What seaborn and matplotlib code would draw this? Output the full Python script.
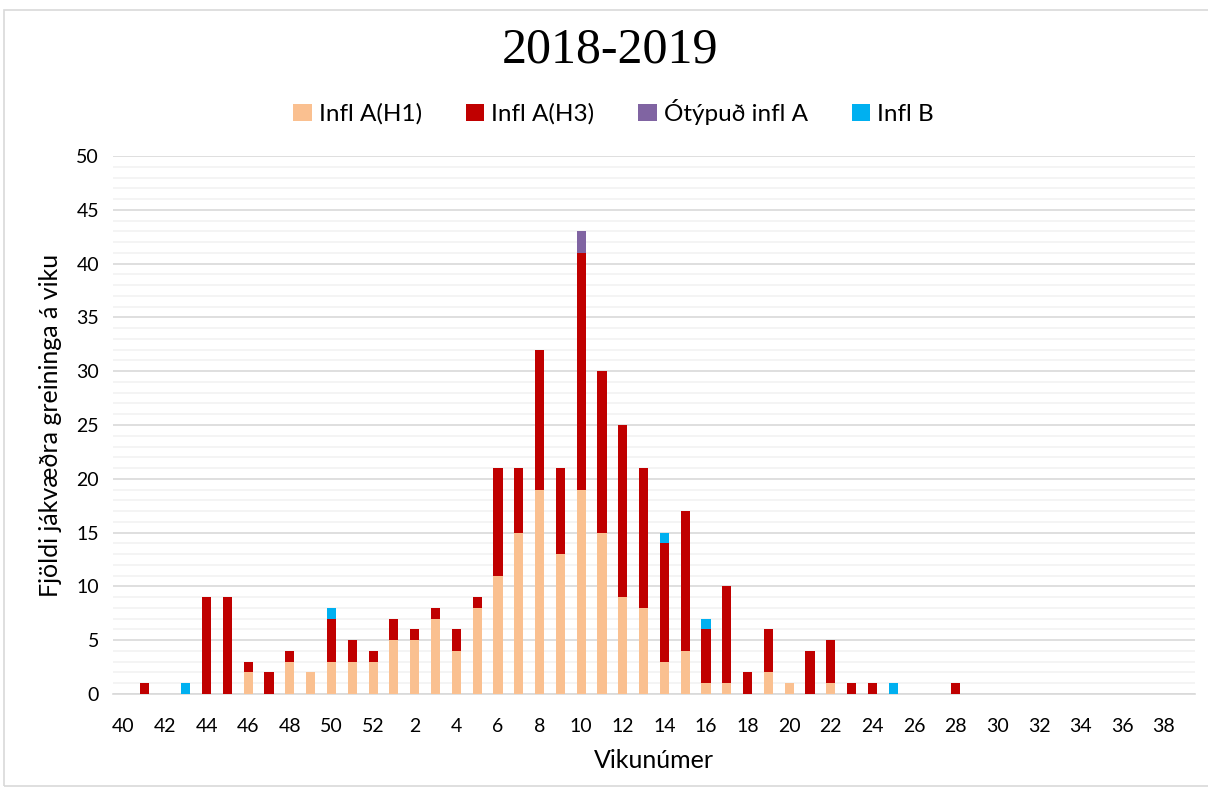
import numpy as np
import pandas as pd
import matplotlib.pyplot as plt
import seaborn as sns
from matplotlib.patches import Rectangle, Patch

# Vikur: 40-52 og svo 1-39
weeks = list(range(40, 53)) + list(range(1, 40))

h1 = [0, 0, 0, 0, 0, 0, 2, 0, 3, 2, 3, 3, 3,
      5, 5, 7, 4, 8, 11, 15, 19, 13, 19, 15, 9, 8, 3, 4, 1, 1, 0, 2, 1, 0, 1, 0, 0, 0,
      0, 0, 0, 0, 0, 0, 0, 0, 0, 0, 0, 0, 0, 0]
h3 = [0, 1, 0, 0, 9, 9, 1, 2, 1, 0, 4, 2, 1,
      2, 1, 1, 2, 1, 10, 6, 13, 8, 22, 15, 16, 13, 11, 13, 5, 9, 2, 4, 0, 4, 4, 1, 1, 0,
      0, 0, 1, 0, 0, 0, 0, 0, 0, 0, 0, 0, 0, 0]
untyped = [0] * 52
untyped[weeks.index(10)] = 2
infl_b = [0] * 52
for w in (43, 50, 14, 16, 25):
    infl_b[weeks.index(w)] = 1

series_names = ["Infl A(H1)", "Infl A(H3)", "Ótýpuð infl A", "Infl B"]
colors = ["#FAC090", "#C00000", "#8064A2", "#00B0F0"]

sns.set_theme(style="white")
plt.rcParams['font.family'] = ['Lato', 'DejaVu Sans']
plt.rcParams['text.color'] = 'black'
plt.rcParams['axes.labelcolor'] = 'black'

df = pd.DataFrame({"week": [str(w) for w in weeks],
                   series_names[0]: h1, series_names[1]: h3,
                   series_names[2]: untyped, series_names[3]: infl_b})

fig = plt.figure(figsize=(12.08, 7.89), dpi=100)
ax = fig.add_axes([113 / 1208, 1 - 694 / 789, (1195 - 113) / 1208, (694 - 156) / 789])

bottom = np.zeros(len(weeks))
for name, col in zip(series_names, colors):
    vals = df[name].to_numpy()
    sns.barplot(data=df, x="week", y=name, color=col, width=0.44, bottom=bottom,
                linewidth=0, ax=ax, zorder=3, saturation=1)
    bottom = bottom + vals

ax.set_ylim(0, 50)
ax.set_xlim(-0.5, len(weeks) - 0.5)
ax.set_yticks(range(0, 51, 5))
ax.set_yticks(range(0, 51, 1), minor=True)
ax.grid(axis='y', which='major', color='#D9D9D9', linewidth=1.2, zorder=0)
ax.grid(axis='y', which='minor', color='#F2F2F2', linewidth=1.2, zorder=0)
ax.set_axisbelow(True)
ax.set_xticks(range(0, 52, 2))
ax.set_xticklabels([str(w) for w in weeks[::2]])
ax.tick_params(axis='both', which='both', length=0, labelsize=14, colors='black')
ax.tick_params(axis='x', pad=17)
ax.tick_params(axis='y', pad=10)
for s in ['top', 'right', 'left']:
    ax.spines[s].set_visible(False)
ax.spines['bottom'].set_color('#D9D9D9')
ax.spines['bottom'].set_linewidth(1.2)

ax.set_xlabel("Vikunúmer", fontsize=18, labelpad=10)
ax.set_ylabel("Fjöldi jákvæðra greininga á viku", fontsize=18, labelpad=10)

fig.text(0.505, 1 - 50 / 789, "2018-2019", ha='center', va='center',
         fontsize=36, family=['Liberation Serif', 'DejaVu Serif'])

handles = [Patch(facecolor=c, edgecolor='none') for c in colors]
fig.legend(handles, series_names, loc='center', bbox_to_anchor=(0.508, 1 - 112 / 789),
           ncol=4, frameon=False, fontsize=17.5, handlelength=0.75, handleheight=0.75,
           handletextpad=0.3, columnspacing=1.8)

fig.patches.append(Rectangle((4 / 1208, 1 - 786 / 789), 1.1, 776 / 789,
                             transform=fig.transFigure, fill=False,
                             edgecolor='#D9D9D9', linewidth=1.2))

fig.savefig("out.png", dpi=100)
